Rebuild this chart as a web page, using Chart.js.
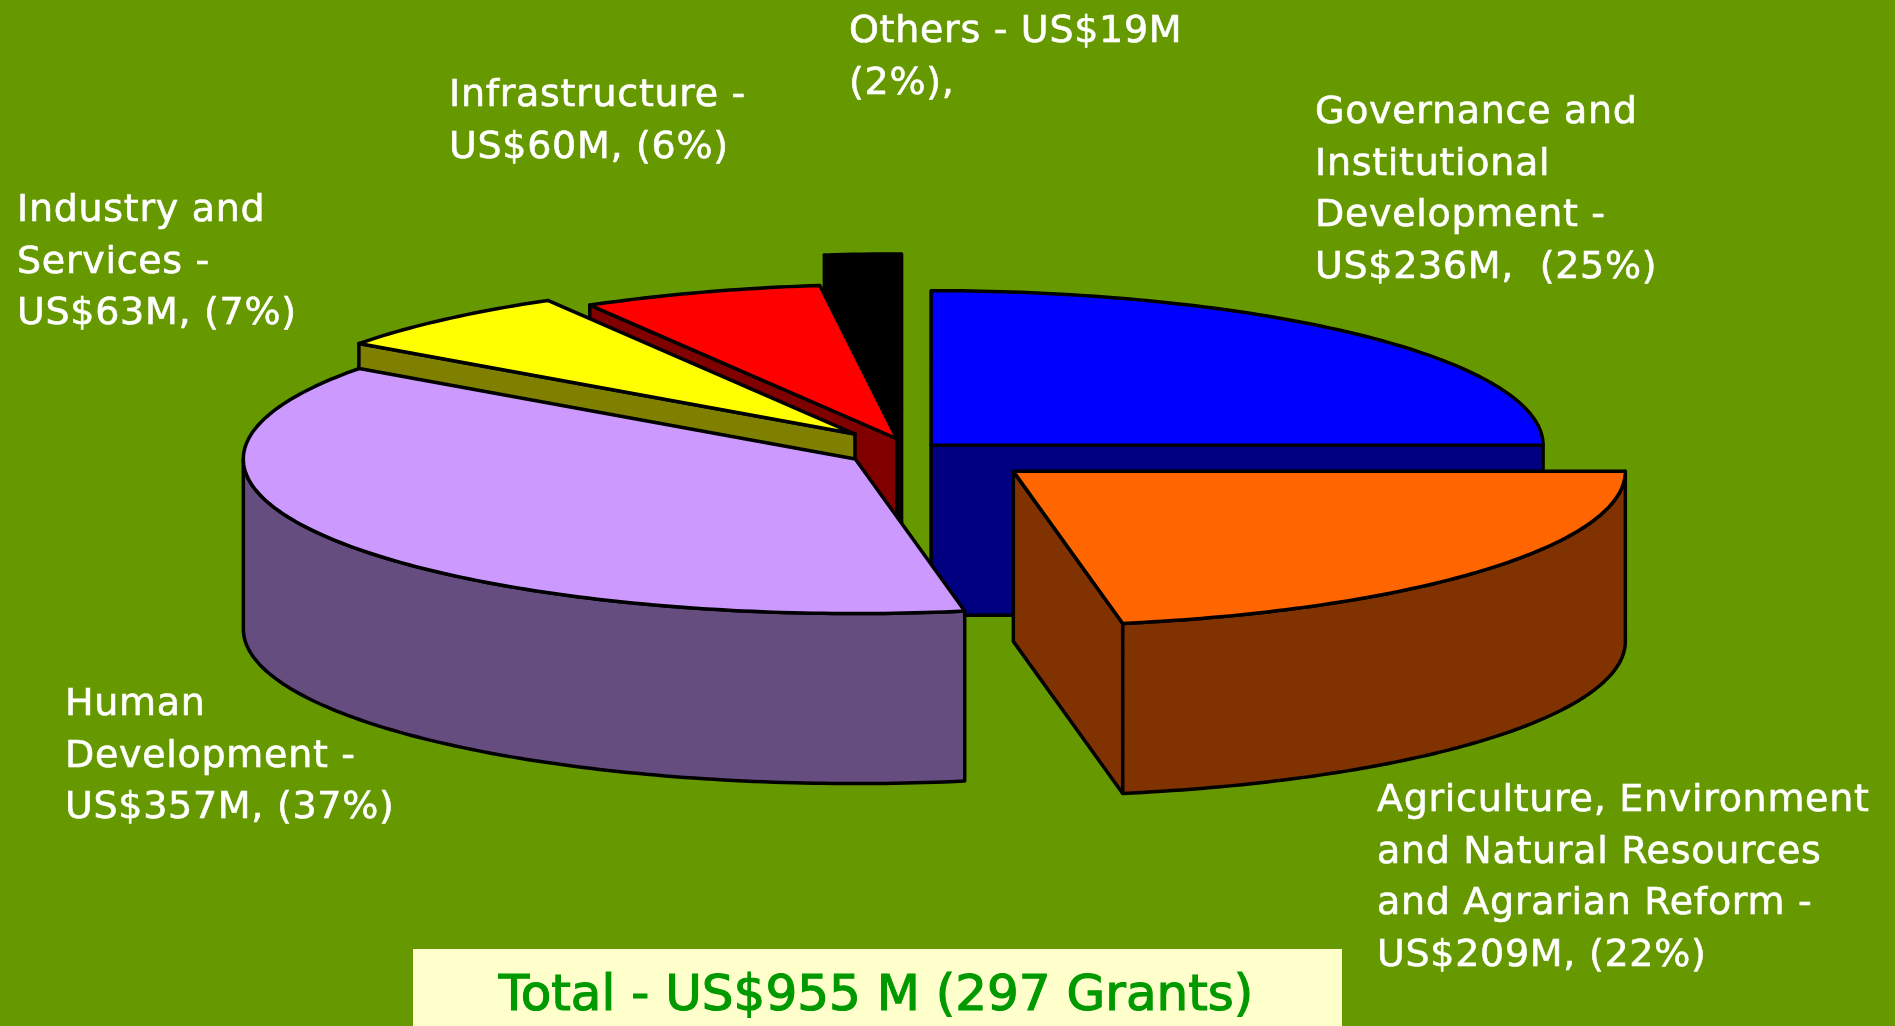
<!DOCTYPE html>
<html>
<head>
<meta charset="utf-8">
<title>Grants by sector</title>
<script src="https://cdn.jsdelivr.net/npm/chart.js@4"></script>
<style>
  html, body { margin: 0; padding: 0; background: #669900; overflow: hidden; }
  canvas { display: block; }
</style>
</head>
<body>
<canvas id="pie3d" width="1895" height="1026"></canvas>
<script>
const categories = [
  "Governance and Institutional Development",
  "Agriculture, Environment and Natural Resources and Agrarian Reform",
  "Human Development",
  "Industry and Services",
  "Infrastructure",
  "Others"
]
const grantValues = [236, 209, 357, 63, 60, 19]

const topColors = ["#0000ff", "#ff6600", "#cc99ff", "#ffff00", "#ff0000", "#000000"]
const sideColors = ["#000080", "#803300", "#664d80", "#808000", "#800000", "#000000"]
// how far each slice is pulled out, in px
const explode = [27, 132, 67, 85, 47, 165]
// back to front
const paintOrder = [5, 0, 4, 3, 2, 1]

const labelLines = [
  ["Governance and", "Institutional", "Development -", "US$236M,  (25%)"],
  ["Agriculture, Environment", "and Natural Resources", "and Agrarian Reform -", "US$209M, (22%)"],
  ["Human", "Development -", "US$357M, (37%)"],
  ["Industry and", "Services -", "US$63M, (7%)"],
  ["Infrastructure -", "US$60M, (6%)"],
  ["Others - US$19M", "(2%),"]
]
const labelX = [1315, 1377, 65, 17, 449, 849]
const labelY = [123, 811, 715, 221, 106, 42]
const totalText = "Total - US$955 M (297 Grants)"

const squash = 0.2525
const depth = 170
const lineHeight = 51.5

const pie3d = {
  id: "pie3d",
  beforeDatasetDraw(chart, args) {
    const ctx = chart.ctx
    const arcs = args.meta.data

    paintOrder.forEach(i => {
      const arc = arcs[i]
      const half = (arc.startAngle + arc.endAngle) / 2
      // not the library's offset option, that one also narrows the slice
      const dx = Math.cos(half) * explode[i]
      const dy = Math.sin(half) * explode[i]
      const r = arc.outerRadius

      // flattened point on the slice, lifted by h px
      const pt = (ang, rad, h) => [
        arc.x + dx + Math.cos(ang) * rad,
        arc.y + (dy + Math.sin(ang) * rad) * squash + h
      ]
      const poly = (pts, fill) => {
        ctx.beginPath()
        pts.forEach((p, n) => n ? ctx.lineTo(p[0], p[1]) : ctx.moveTo(p[0], p[1]))
        ctx.closePath()
        if (fill) {
          ctx.fillStyle = fill
          ctx.fill()
        }
        ctx.stroke()
      }
      const rim = (from, to, h) => {
        const pts = []
        const steps = Math.max(2, Math.ceil((to - from) * 60))
        for (let n = 0; n <= steps; n++) pts.push(pt(from + (to - from) * n / steps, r, h))
        return pts
      }

      ctx.save()
      ctx.lineWidth = 3.5
      ctx.lineJoin = "round"
      ctx.strokeStyle = "#000"

      // cut faces turned toward the viewer
      if (Math.cos(arc.startAngle) < 0) {
        poly([pt(0, 0, 0), pt(arc.startAngle, r, 0), pt(arc.startAngle, r, depth), pt(0, 0, depth)], sideColors[i])
      }
      if (Math.cos(arc.endAngle) > 0) {
        poly([pt(0, 0, 0), pt(arc.endAngle, r, 0), pt(arc.endAngle, r, depth), pt(0, 0, depth)], sideColors[i])
      }

      // outer wall, only the front half of the circle shows
      const from = Math.max(arc.startAngle, 0)
      const to = Math.min(arc.endAngle, Math.PI)
      if (to > from) {
        poly(rim(from, to, 0).concat(rim(from, to, depth).reverse()), sideColors[i])
      }

      // top face goes through the library's own arc, flattened
      ctx.save()
      ctx.translate(dx, arc.y)
      ctx.scale(1, squash)
      ctx.translate(0, dy - arc.y)
      arc.draw(ctx)
      ctx.restore()

      // outline after the restore so the line width stays even
      poly([pt(0, 0, 0)].concat(rim(arc.startAngle, arc.endAngle, 0)))
      ctx.restore()
    })
    return false
  },
  afterDraw(chart) {
    const ctx = chart.ctx
    ctx.save()
    ctx.textAlign = "left"
    ctx.textBaseline = "alphabetic"
    ctx.fillStyle = "#ffffff"
    ctx.strokeStyle = "#ffffff"
    ctx.lineWidth = 0.6
    ctx.letterSpacing = "0.7px"
    ctx.font = "38px 'DejaVu Sans'"
    labelLines.forEach((lines, i) => {
      lines.forEach((txt, n) => {
        ctx.fillText(txt, labelX[i], labelY[i] + n * lineHeight)
        ctx.strokeText(txt, labelX[i], labelY[i] + n * lineHeight)
      })
    })

    ctx.letterSpacing = "0px"
    ctx.fillStyle = "#ffffcc"
    ctx.fillRect(413, 949, 929, 77)
    ctx.fillStyle = "#009900"
    ctx.strokeStyle = "#009900"
    ctx.lineWidth = 1.2
    ctx.font = "50px 'DejaVu Sans'"
    ctx.textAlign = "center"
    ctx.fillText(totalText, 876, 1010)
    ctx.strokeText(totalText, 876, 1010)
    ctx.restore()
  }
}

new Chart(document.getElementById("pie3d"), {
  type: "pie",
  data: {
    labels: categories,
    datasets: [{
      data: grantValues,
      backgroundColor: topColors,
      borderWidth: 0
    }]
  },
  options: {
    responsive: false,
    animation: false,
    radius: 612,
    events: [],
    layout: { padding: { right: 71, bottom: 126 } },
    plugins: {
      legend: { display: false },
      tooltip: { enabled: false }
    }
  },
  plugins: [pie3d]
})
</script>
</body>
</html>
